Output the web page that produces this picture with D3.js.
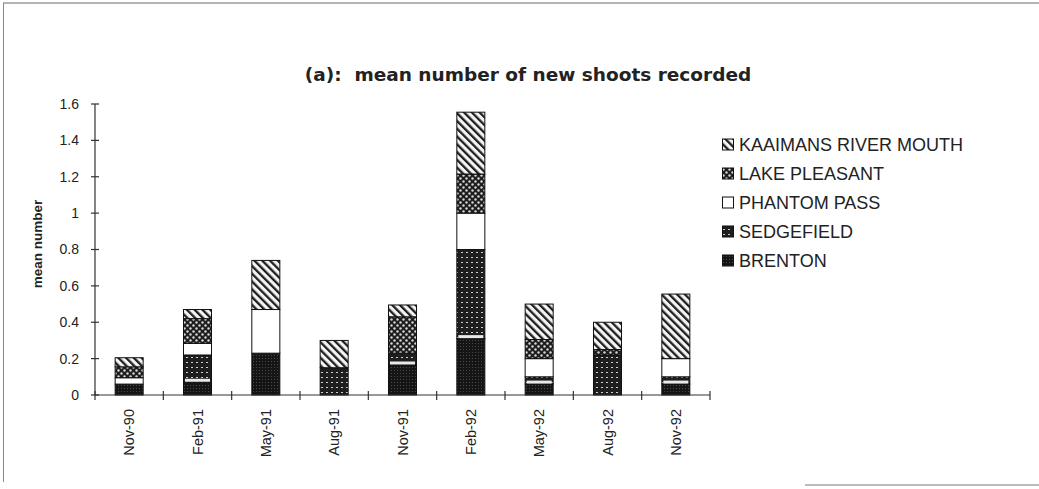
<!DOCTYPE html>
<html>
<head>
<meta charset="utf-8">
<script src="https://cdn.jsdelivr.net/npm/d3@7"></script>
<style>
  html, body { margin: 0; padding: 0; background: #fff; }
  svg { display: block; }
</style>
</head>
<body>
<svg id="chart" width="1039" height="489"></svg>
<script>
// Sampling dates (x categories)
const categories = ["Nov-90", "Feb-91", "May-91", "Aug-91", "Nov-91", "Feb-92", "May-92", "Aug-92", "Nov-92"];

// Mean number of new shoots per site, stacked bottom to top
const brenton      = [0.06, 0.07, 0.23, 0.00, 0.165, 0.31, 0.06, 0.00, 0.06];
const sedgefield   = [0.00, 0.15, 0.00, 0.15, 0.065, 0.49, 0.04, 0.22, 0.04];
const phantomPass  = [0.035, 0.064, 0.24, 0.00, 0.00, 0.20, 0.10, 0.00, 0.10];
const lakePleasant = [0.06, 0.136, 0.00, 0.00, 0.20, 0.215, 0.105, 0.03, 0.00];
const kaaimans     = [0.05, 0.05, 0.27, 0.15, 0.065, 0.34, 0.195, 0.15, 0.355];

const seriesNames = ["BRENTON", "SEDGEFIELD", "PHANTOM PASS", "LAKE PLEASANT", "KAAIMANS RIVER MOUTH"];
const yTicks = [0, 0.2, 0.4, 0.6, 0.8, 1, 1.2, 1.4, 1.6];

const title = "(a):  mean number of new shoots recorded";
const yTitle = "mean number";

const keys = ["brenton", "sedgefield", "phantomPass", "lakePleasant", "kaaimans"];
const table = categories.map((c, i) => ({
  date: c,
  brenton: brenton[i],
  sedgefield: sedgefield[i],
  phantomPass: phantomPass[i],
  lakePleasant: lakePleasant[i],
  kaaimans: kaaimans[i]
}));

const svg = d3.select("#chart");
const W = 1039, H = 489;
const margin = { left: 95, right: 329, top: 104, bottom: 94 };

// ---- fill patterns for each site ----
const defs = svg.append("defs");

// BRENTON: near-black stipple
const pB = defs.append("pattern").attr("id", "pat-brenton")
  .attr("patternUnits", "userSpaceOnUse").attr("width", 3).attr("height", 3);
pB.append("rect").attr("width", 3).attr("height", 3).attr("fill", "#151515");
pB.append("rect").attr("x", 1).attr("y", 1).attr("width", 1).attr("height", 1).attr("fill", "#4a4a4a");

// SEDGEFIELD: dark with rows of light dots
const pS = defs.append("pattern").attr("id", "pat-sedgefield")
  .attr("patternUnits", "userSpaceOnUse").attr("width", 5).attr("height", 5);
pS.append("rect").attr("width", 5).attr("height", 5).attr("fill", "#1e1e1e");
pS.append("rect").attr("x", 1).attr("y", 2).attr("width", 2).attr("height", 1).attr("fill", "#cfcfcf");

// LAKE PLEASANT: dark field with checkered light dots
const pL = defs.append("pattern").attr("id", "pat-lake")
  .attr("patternUnits", "userSpaceOnUse").attr("width", 6).attr("height", 6);
pL.append("rect").attr("width", 6).attr("height", 6).attr("fill", "#1e1e1e");
pL.append("circle").attr("cx", 1.5).attr("cy", 1.5).attr("r", 1.2).attr("fill", "#d6d6d6");
pL.append("circle").attr("cx", 4.5).attr("cy", 4.5).attr("r", 1.2).attr("fill", "#d6d6d6");

// KAAIMANS RIVER MOUTH: back-diagonal hatch
const pK = defs.append("pattern").attr("id", "pat-kaaimans")
  .attr("patternUnits", "userSpaceOnUse").attr("width", 5.5).attr("height", 5.5)
  .attr("patternTransform", "rotate(-45)");
pK.append("rect").attr("width", 5.5).attr("height", 5.5).attr("fill", "#f4f4f4");
pK.append("rect").attr("x", 0).attr("y", 0).attr("width", 2.3).attr("height", 5.5).attr("fill", "#1e1e1e");

const fills = {
  brenton: "url(#pat-brenton)",
  sedgefield: "url(#pat-sedgefield)",
  phantomPass: "#ffffff",
  lakePleasant: "url(#pat-lake)",
  kaaimans: "url(#pat-kaaimans)"
};

// ---- frame ----
svg.append("line").attr("x1", 3).attr("x2", W).attr("y1", 3).attr("y2", 3)
  .attr("stroke", "#6a6a6a").attr("stroke-width", 1.2);
svg.append("line").attr("x1", 3.5).attr("x2", 3.5).attr("y1", 3).attr("y2", 482)
  .attr("stroke", "#8a8a8a").attr("stroke-width", 1);
svg.append("line").attr("x1", 805).attr("x2", W).attr("y1", 485).attr("y2", 485)
  .attr("stroke", "#7a7a7a").attr("stroke-width", 1.2);

// ---- scales ----
const x = d3.scaleBand()
  .domain(categories)
  .range([margin.left, W - margin.right])
  .paddingInner(0.59)
  .paddingOuter(0.295);

const y = d3.scaleLinear()
  .domain([0, 1.6])
  .range([H - margin.bottom, margin.top]);

const series = d3.stack().keys(keys)(table);

// ---- bars ----
const g = svg.append("g");
series.forEach(s => {
  const key = s.key;
  const present = s.filter(d => d[1] - d[0] > 0);
  g.append("g").selectAll("rect")
    .data(present)
    .join("rect")
    .attr("x", d => x(d.data.date))
    .attr("y", d => y(d[1]))
    .attr("width", x.bandwidth())
    .attr("height", d => y(d[0]) - y(d[1]))
    .attr("fill", fills[key])
    .attr("stroke", "#111")
    .attr("stroke-width", 1);
  if (key === "sedgefield") {
    // light edge where a Sedgefield block sits on a Brenton block
    g.append("g").selectAll("rect")
      .data(present.filter(d => d[0] > 0))
      .join("rect")
      .attr("x", d => x(d.data.date) + 1.5)
      .attr("y", d => y(d[0]) - Math.min(3, (y(d[0]) - y(d[1])) * 0.5) - 0.5)
      .attr("width", x.bandwidth() - 3)
      .attr("height", d => Math.min(3, (y(d[0]) - y(d[1])) * 0.5))
      .attr("fill", "#e8e8e8");
  }
});

// ---- axes ----
const axisColor = "#333";
const yAxisG = svg.append("g");
yAxisG.append("line")
  .attr("x1", margin.left).attr("x2", margin.left)
  .attr("y1", y(0)).attr("y2", y(1.6))
  .attr("stroke", axisColor).attr("stroke-width", 1.2);
yAxisG.selectAll("line.tick").data(yTicks).join("line")
  .attr("class", "tick")
  .attr("x1", margin.left - 4).attr("x2", margin.left + 4)
  .attr("y1", d => y(d)).attr("y2", d => y(d))
  .attr("stroke", axisColor).attr("stroke-width", 1.2);
yAxisG.selectAll("text").data(yTicks).join("text")
  .attr("x", margin.left - 16)
  .attr("y", d => y(d))
  .attr("dy", "0.35em")
  .attr("text-anchor", "end")
  .attr("font-family", "'Liberation Sans', Arial, sans-serif")
  .attr("font-size", 14)
  .attr("fill", "#222")
  .text(d => d3.format("")(d));

const xAxisG = svg.append("g");
const x0 = x.range()[0], x1 = x.range()[1];
xAxisG.append("line")
  .attr("x1", x0).attr("x2", x1)
  .attr("y1", y(0)).attr("y2", y(0))
  .attr("stroke", axisColor).attr("stroke-width", 1.2);
const boundaries = d3.range(categories.length + 1).map(i => x0 + i * x.step());
xAxisG.selectAll("line.tick").data(boundaries).join("line")
  .attr("class", "tick")
  .attr("x1", d => d).attr("x2", d => d)
  .attr("y1", y(0) - 4).attr("y2", y(0) + 5)
  .attr("stroke", axisColor).attr("stroke-width", 1.2);
xAxisG.selectAll("text").data(categories).join("text")
  .attr("transform", d => `translate(${x(d) + x.bandwidth() / 2 + 5},${y(0) + 14}) rotate(-90)`)
  .attr("text-anchor", "end")
  .attr("font-family", "'Liberation Sans', Arial, sans-serif")
  .attr("font-size", 14.5)
  .attr("fill", "#222")
  .text(d => d);

// ---- titles ----
svg.append("text")
  .attr("x", 528).attr("y", 81)
  .attr("text-anchor", "middle")
  .style("white-space", "pre")
  .attr("font-family", "'DejaVu Sans', Verdana, sans-serif")
  .attr("font-weight", "bold")
  .attr("font-size", 18.5)
  .attr("fill", "#222")
  .text(title);

svg.append("text")
  .attr("transform", `translate(42,${244}) rotate(-90)`)
  .attr("text-anchor", "middle")
  .attr("font-family", "'Liberation Sans', Arial, sans-serif")
  .attr("font-weight", "bold")
  .attr("font-size", 13.5)
  .attr("fill", "#222")
  .text(yTitle);

// ---- legend (top entry is the top of the stack) ----
const legendKeys = keys.slice().reverse();
const legendNames = seriesNames.slice().reverse();
const legend = svg.append("g").attr("transform", "translate(722,145)");
legendKeys.forEach((k, i) => {
  const row = legend.append("g").attr("transform", `translate(0,${i * 29})`);
  row.append("rect")
    .attr("x", 0.5).attr("y", -6).attr("width", 11).attr("height", 11)
    .attr("fill", fills[k]).attr("stroke", "#111").attr("stroke-width", 1);
  row.append("text")
    .attr("x", 17).attr("y", 0).attr("dy", "0.36em")
    .attr("font-family", "'Liberation Sans', Arial, sans-serif")
    .attr("font-size", 18)
    .attr("fill", "#222")
    .text(legendNames[i]);
});
</script>
</body>
</html>
